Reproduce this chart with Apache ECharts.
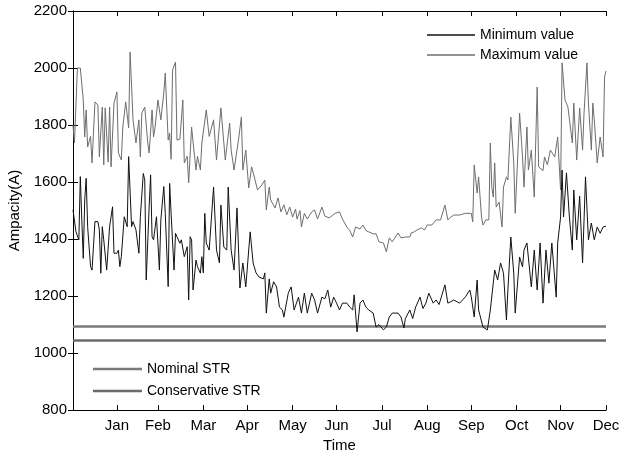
<!DOCTYPE html>
<html>
<head>
<meta charset="utf-8">
<script src="https://cdn.jsdelivr.net/npm/echarts@6/dist/echarts.min.js"></script>
<style>
  html, body { margin: 0; padding: 0; background: #fff; }
  #chart { width: 620px; height: 453px; }
</style>
</head>
<body>
<div id="chart"></div>
<script>
// day of year (0 = 1 Jan) at the end of each month, where the labels sit
const monthEnds = [30, 58, 89, 119, 150, 180, 211, 242, 272, 303, 333, 364]
const monthNames = ['Jan', 'Feb', 'Mar', 'Apr', 'May', 'Jun', 'Jul', 'Aug', 'Sep', 'Oct', 'Nov', 'Dec']

// maximum value (grey line)
const maxDays = [0, 1, 3, 5, 7, 8, 9, 10, 12, 13, 15, 17, 18, 20, 21, 22, 24, 25, 26, 28, 30, 31, 33, 34, 36, 37, 38, 39, 41, 42, 43, 45, 46, 47, 49, 51, 52, 54, 55, 56, 58, 60, 62, 63, 65, 66, 67, 68, 70, 71, 73, 75, 76, 78, 79, 81, 82, 84, 85, 87, 88, 91, 93, 96, 98, 101, 104, 107, 108, 110, 113, 115, 116, 118, 120, 122, 124, 126, 129, 131, 132, 134, 135, 138, 140, 142, 144, 146, 148, 150, 152, 153, 155, 156, 158, 160, 163, 165, 167, 170, 172, 173, 175, 177, 179, 182, 184, 187, 189, 191, 193, 196, 198, 200, 202, 205, 207, 209, 212, 214, 216, 218, 219, 222, 224, 227, 230, 231, 233, 235, 238, 240, 242, 245, 248, 251, 254, 256, 258, 260, 264, 268, 272, 273, 274, 276, 277, 279, 280, 282, 284, 285, 286, 287, 288, 289, 291, 293, 294, 296, 297, 299, 301, 302, 304, 305, 307, 308, 310, 311, 313, 315, 317, 318, 321, 322, 324, 326, 329, 331, 333, 334, 336, 338, 339, 341, 342, 344, 346, 348, 349, 351, 352, 354, 355, 356, 358, 360, 362, 363, 364]
const maxValues = [1800, 1737, 2000, 2000, 1888, 1758, 1853, 1723, 1760, 1667, 1881, 1870, 1688, 1863, 1660, 1860, 1670, 1863, 1653, 1877, 1916, 1702, 1677, 1793, 1881, 1881, 1790, 2056, 1818, 1818, 1737, 1818, 1688, 1842, 1863, 1740, 1702, 1853, 1758, 1790, 1888, 1818, 1912, 1982, 1747, 1772, 1680, 1993, 2021, 1747, 1750, 1888, 1667, 1690, 1597, 1793, 1740, 1642, 1690, 1642, 1737, 1853, 1760, 1818, 1677, 1860, 1677, 1807, 1712, 1642, 1747, 1828, 1642, 1712, 1579, 1653, 1614, 1572, 1590, 1607, 1502, 1582, 1537, 1509, 1544, 1495, 1520, 1485, 1512, 1477, 1505, 1470, 1500, 1442, 1490, 1470, 1495, 1502, 1470, 1512, 1480, 1477, 1474, 1482, 1490, 1495, 1470, 1442, 1430, 1407, 1442, 1435, 1449, 1430, 1425, 1418, 1418, 1390, 1386, 1355, 1404, 1390, 1397, 1421, 1404, 1407, 1407, 1421, 1425, 1432, 1439, 1432, 1449, 1449, 1467, 1467, 1519, 1467, 1477, 1484, 1484, 1490, 1490, 1460, 1660, 1561, 1618, 1477, 1449, 1467, 1467, 1737, 1582, 1547, 1667, 1512, 1530, 1442, 1582, 1618, 1607, 1828, 1667, 1490, 1723, 1842, 1688, 1582, 1793, 1642, 1712, 1547, 1933, 1653, 1640, 1688, 1660, 1712, 1688, 1758, 1572, 2018, 1888, 1863, 1860, 1737, 1877, 1677, 1860, 1712, 1842, 2018, 1877, 1712, 1877, 1818, 1667, 1758, 1688, 1968, 1990]

// minimum value (black line)
const minDays = [0, 1, 2, 4, 5, 6, 7, 8, 9, 10, 12, 13, 15, 17, 18, 19, 20, 21, 23, 25, 26, 27, 28, 30, 31, 32, 33, 35, 37, 38, 40, 41, 43, 45, 46, 48, 49, 50, 52, 53, 54, 55, 57, 58, 59, 60, 62, 63, 65, 66, 67, 69, 70, 71, 73, 74, 76, 78, 79, 80, 81, 82, 84, 85, 87, 88, 89, 90, 91, 93, 96, 98, 100, 101, 103, 105, 106, 108, 110, 112, 114, 116, 118, 121, 123, 125, 127, 130, 131, 132, 134, 135, 137, 139, 141, 143, 144, 147, 149, 151, 154, 156, 158, 160, 163, 165, 167, 170, 172, 174, 176, 178, 180, 182, 184, 187, 189, 191, 192, 194, 196, 198, 200, 202, 205, 207, 209, 212, 214, 216, 218, 219, 222, 224, 226, 227, 230, 232, 234, 237, 239, 241, 243, 246, 248, 250, 254, 256, 258, 260, 264, 266, 268, 271, 272, 274, 276, 277, 280, 283, 285, 288, 290, 292, 294, 296, 297, 299, 301, 302, 305, 307, 308, 310, 313, 315, 317, 319, 321, 323, 325, 327, 330, 331, 333, 334, 335, 337, 339, 341, 342, 344, 346, 348, 350, 352, 354, 356, 358, 360, 362, 364]
const minValues = [1502, 1502, 1426, 1397, 1619, 1467, 1332, 1537, 1613, 1443, 1303, 1291, 1461, 1461, 1432, 1280, 1443, 1397, 1291, 1443, 1443, 1513, 1350, 1350, 1361, 1303, 1338, 1478, 1443, 1689, 1443, 1461, 1432, 1350, 1478, 1630, 1607, 1256, 1513, 1625, 1408, 1397, 1478, 1478, 1291, 1467, 1584, 1490, 1233, 1595, 1490, 1291, 1420, 1408, 1385, 1397, 1338, 1373, 1186, 1408, 1397, 1221, 1326, 1303, 1280, 1338, 1281, 1490, 1386, 1361, 1582, 1361, 1316, 1519, 1372, 1361, 1582, 1361, 1291, 1509, 1228, 1316, 1232, 1425, 1316, 1281, 1267, 1260, 1281, 1140, 1260, 1210, 1250, 1232, 1161, 1151, 1126, 1210, 1232, 1151, 1196, 1140, 1210, 1140, 1210, 1186, 1140, 1196, 1190, 1221, 1161, 1196, 1175, 1151, 1175, 1175, 1161, 1151, 1204, 1074, 1175, 1186, 1161, 1151, 1140, 1091, 1100, 1081, 1091, 1126, 1140, 1144, 1140, 1126, 1088, 1121, 1151, 1121, 1161, 1196, 1156, 1175, 1210, 1175, 1186, 1170, 1239, 1175, 1180, 1186, 1175, 1186, 1197, 1221, 1197, 1126, 1256, 1151, 1091, 1081, 1151, 1291, 1256, 1316, 1280, 1116, 1221, 1407, 1280, 1140, 1337, 1302, 1361, 1386, 1232, 1361, 1221, 1386, 1175, 1361, 1245, 1386, 1196, 1386, 1477, 1642, 1477, 1632, 1477, 1361, 1572, 1397, 1550, 1316, 1618, 1397, 1456, 1397, 1442, 1420, 1442, 1445]

// static thermal ratings, flat over the year
const strDays = [0, 364]
const nominalStr = [1093, 1093]
const conservativeStr = [1044, 1044]

const yTicks = { min: 800, max: 2200, interval: 200 }

const pairs = (days, values) => days.map((d, i) => [d, values[i]])

const font = 'Arial, "Liberation Sans", Helvetica, sans-serif'
const lineSeries = (name, days, values, color, width) => ({
  name: name,
  type: 'line',
  data: pairs(days, values),
  showSymbol: false,
  symbol: 'none',
  lineStyle: { color: color, width: width },
  itemStyle: { color: color }
})

const axisCommon = {
  axisLine: { show: true, lineStyle: { color: '#000', width: 1 } },
  axisTick: { show: true, inside: true, length: 5, lineStyle: { color: '#000' } },
  splitLine: { show: false }
}

const chart = echarts.init(document.getElementById('chart'))
chart.setOption({
  animation: false,
  backgroundColor: '#fff',
  textStyle: { fontFamily: font },
  grid: { left: 73, right: 14, top: 11, bottom: 43, containLabel: false, outerBoundsMode: 'none' },
  legend: [
    {
      data: ['Minimum value', 'Maximum value'],
      orient: 'vertical',
      left: 427,
      top: 28,
      padding: 0,
      icon: 'rect',
      itemWidth: 48,
      itemHeight: 1.5,
      itemGap: 6,
      textStyle: { fontSize: 14, color: '#000', fontFamily: font }
    },
    {
      data: ['Nominal STR', 'Conservative STR'],
      orient: 'vertical',
      left: 93,
      top: 362,
      padding: 0,
      icon: 'rect',
      itemWidth: 49,
      itemHeight: 2.5,
      itemGap: 8,
      textStyle: { fontSize: 14, color: '#000', fontFamily: font }
    }
  ],
  xAxis: [
    Object.assign({}, axisCommon, {
      type: 'value',
      min: 0,
      max: 364,
      name: 'Time',
      nameLocation: 'middle',
      nameGap: 20,
      nameTextStyle: { fontSize: 15, color: '#000' },
      axisTick: Object.assign({}, axisCommon.axisTick, { customValues: monthEnds }),
      axisLabel: {
        customValues: monthEnds,
        formatter: (v) => monthNames[monthEnds.indexOf(v)],
        fontSize: 15,
        color: '#000',
        margin: 8
      }
    }),
    Object.assign({}, axisCommon, {
      type: 'value',
      position: 'top',
      min: 0,
      max: 364,
      axisTick: Object.assign({}, axisCommon.axisTick, { customValues: monthEnds }),
      axisLabel: { show: false }
    })
  ],
  yAxis: [
    Object.assign({}, axisCommon, {
      type: 'value',
      min: yTicks.min,
      max: yTicks.max,
      interval: yTicks.interval,
      name: 'Ampacity(A)',
      nameLocation: 'middle',
      nameGap: 49,
      nameTextStyle: { fontSize: 15, color: '#000' },
      axisLabel: { fontSize: 15, color: '#000', margin: 6, formatter: (v) => String(v) }
    }),
    Object.assign({}, axisCommon, {
      type: 'value',
      position: 'right',
      min: yTicks.min,
      max: yTicks.max,
      interval: yTicks.interval,
      axisLabel: { show: false }
    })
  ],
  series: [
    lineSeries('Nominal STR', strDays, nominalStr, '#7a7a7a', 2.5),
    lineSeries('Conservative STR', strDays, conservativeStr, '#6a6a6a', 2.5),
    lineSeries('Maximum value', maxDays, maxValues, '#6e6e6e', 1),
    lineSeries('Minimum value', minDays, minValues, '#111', 1)
  ]
})
</script>
</body>
</html>
